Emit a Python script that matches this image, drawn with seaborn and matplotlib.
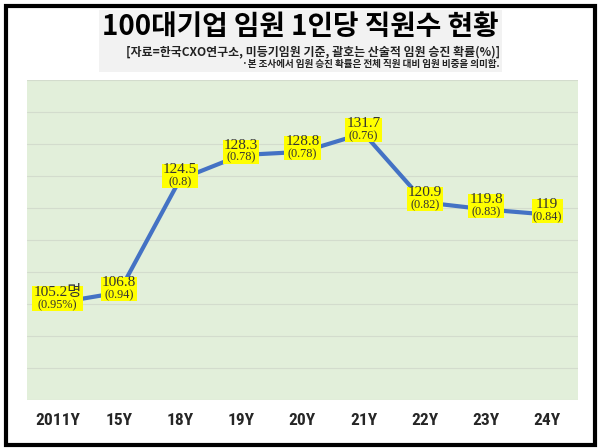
import numpy as np
import seaborn as sns
import matplotlib.pyplot as plt
from matplotlib.patches import Rectangle

# data
years = ["2011Y", "15Y", "18Y", "19Y", "20Y", "21Y", "22Y", "23Y", "24Y"]
staff_per_exec = [105.2, 106.8, 124.5, 128.3, 128.8, 131.7, 120.9, 119.8, 119.0]
promo_rate = [0.95, 0.94, 0.8, 0.78, 0.78, 0.76, 0.82, 0.83, 0.84]

title = "100대기업 임원 1인당 직원수 현황"
source = "[자료=한국CXO연구소, 미등기임원 기준, 괄호는 산술적 임원 승진 확률(%)]"
note = "·본 조사에서 임원 승진 확률은 전체 직원 대비 임원 비중을 의미함."

sns.set_style("white")
plt.rcParams["font.family"] = ["Noto Sans CJK KR", "DejaVu Sans"]
serif = ["Liberation Serif", "Noto Sans CJK KR"]
narrow = ["Roboto Condensed", "Liberation Sans Narrow", "Roboto", "DejaVu Sans"]

fig = plt.figure(figsize=(6, 4.48), dpi=100)
ax = fig.add_axes([0.045, 0.107, 0.918, 0.714])
ax.set_facecolor("#E2EFDA")

sns.lineplot(x=years, y=staff_per_exec, sort=False, color="#4472C4",
             linewidth=3, ax=ax, zorder=3)

ax.set_ylim(90, 140)
ax.set_xlim(-0.5, len(years) - 0.5)
ax.set_yticks(np.arange(90, 141, 5))
ax.yaxis.grid(True, color="#D3DCCD", linewidth=0.8)
ax.xaxis.grid(False)
ax.set_yticklabels([])
ax.tick_params(axis="y", length=0)
ax.tick_params(axis="x", length=0, pad=9)
for lab in ax.get_xticklabels():
    lab.set_family(narrow)
    lab.set_fontstretch("condensed")
    lab.set_fontweight("bold")
    lab.set_fontsize(12.5)
for s in ax.spines.values():
    s.set_visible(False)
ax.set_xlabel("")
ax.set_ylabel("")

# value labels with yellow boxes
pairs = []
for i, (v, r) in enumerate(zip(staff_per_exec, promo_rate)):
    top = f"{v:g}" + ("명" if i == 0 else "")
    bot = f"({r:g}" + ("%)" if i == 0 else ")")
    t1 = ax.annotate(top, (i, v), xytext=(0, 2.5), textcoords="offset points",
                     ha="center", va="bottom", fontsize=11, family=serif,
                     color="#333333", zorder=6)
    t2 = ax.annotate(bot, (i, v), xytext=(0, 2.5), textcoords="offset points",
                     ha="center", va="top", fontsize=8.8, family=serif,
                     color="#333333", zorder=6)
    pairs.append((t1, t2))

fig.canvas.draw()
r = fig.canvas.get_renderer()
inv = ax.transData.inverted()
for t1, t2 in pairs:
    b1 = t1.get_window_extent(r)
    b2 = t2.get_window_extent(r)
    x0 = min(b1.x0, b2.x0) - 1
    x1 = max(b1.x1, b2.x1) + 1
    y0 = b2.y0
    y1 = b1.y1 - 1
    (dx0, dy0), (dx1, dy1) = inv.transform([(x0, y0), (x1, y1)])
    ax.add_patch(Rectangle((dx0, dy0), dx1 - dx0, dy1 - dy0, facecolor="#FFFF00",
                           edgecolor="none", zorder=5, clip_on=False))

# header
fig.patches.append(Rectangle((99 / 600, 1 - 72 / 448), 403 / 600, 62 / 448,
                             transform=fig.transFigure, facecolor="#F2F2F2",
                             edgecolor="none", zorder=0))
fig.text(0.5, 1 - 27 / 448, title, ha="center", va="center",
         fontsize=20, fontweight="black", color="black")
fig.text(500 / 600, 1 - 52 / 448, source, ha="right", va="center",
         fontsize=8.6, fontweight="bold", color="#222222")
fig.text(499 / 600, 1 - 63.5 / 448, note, ha="right", va="center",
         fontsize=6.9, fontweight="bold", color="#222222")

# outer border
fig.patches.append(Rectangle((6 / 600, 3 / 448), 589 / 600, 439 / 448,
                             transform=fig.transFigure, facecolor="none",
                             edgecolor="black", linewidth=3, zorder=10))

fig.savefig("out.png", dpi=100)
